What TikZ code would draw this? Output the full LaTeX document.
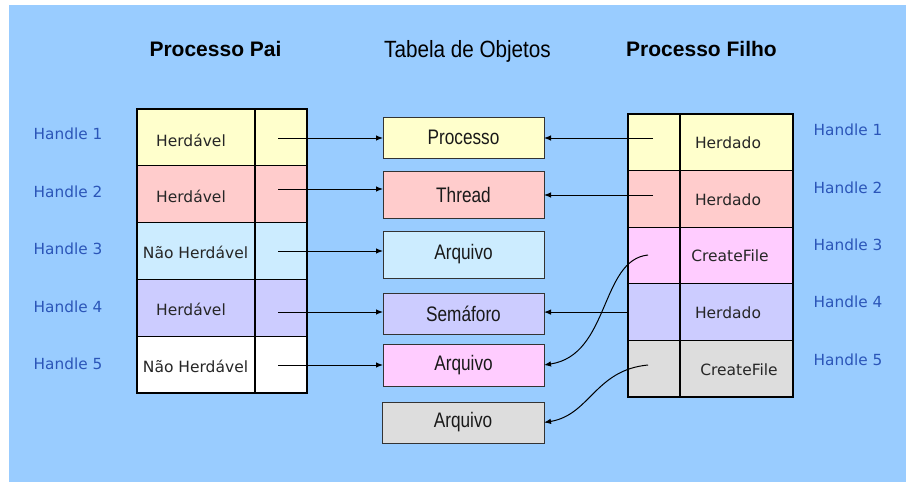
\documentclass[tikz,border=0pt]{standalone}
\usepackage{fontspec}
\usetikzlibrary{arrows.meta}
\newfontfamily\cellfont{DejaVu Sans}
\newfontfamily\headfont{Liberation Sans}
\newfontfamily\objfont[FakeStretch=0.82]{Liberation Sans}
\newfontfamily\tabfont[FakeStretch=0.88]{Liberation Sans}
\definecolor{bg}{HTML}{99CCFF}
\definecolor{cyel}{HTML}{FFFFCC}
\definecolor{cred}{HTML}{FFCCCC}
\definecolor{ccya}{HTML}{CCECFF}
\definecolor{clav}{HTML}{CCCCFF}
\definecolor{cmag}{HTML}{FFCCFF}
\definecolor{cgry}{HTML}{DDDDDD}
\definecolor{hblue}{HTML}{2B55B8}
\tikzset{
  cell/.style={draw=black, line width=1.1pt, anchor=north west, inner sep=0pt, outer sep=0pt},
  lname/.style={cell, minimum width=118pt, minimum height=56.8pt},
  lhand/.style={cell, minimum width=52pt, minimum height=56.8pt},
  rhand/.style={cell, minimum width=52pt, minimum height=56.6pt},
  rname/.style={cell, minimum width=113pt, minimum height=56.6pt},
  ctext/.style={inner sep=0pt, text=black!85, font=\cellfont\fontsize{15.5}{18}\selectfont},
  htext/.style={inner sep=0pt, text=hblue, font=\cellfont\fontsize{15.3}{18}\selectfont},
  obj/.style={draw=black!80, line width=0.9pt, anchor=north west, inner sep=0pt, outer sep=0pt,
    minimum width=161pt, text=black!90, font=\objfont\fontsize{21}{25}\selectfont},
  arr/.style={line width=1pt, -{Latex[length=7pt,width=5.5pt]}},
  title/.style={anchor=base, inner sep=0pt, font=\headfont\bfseries\fontsize{21}{25}\selectfont}
}
\begin{document}
\begin{tikzpicture}[x=1pt,y=-1pt]
\useasboundingbox (0,0) rectangle (906,482);
\fill[bg] (9,5) rectangle (906,482);

% titles
\node[title] (t1) at (215.5,56) {Processo Pai};
\node[anchor=base, inner sep=0pt, font=\tabfont\fontsize{23.5}{28}\selectfont] (t2) at (467.5,57) {Tabela de Objetos};
\node[title] (t3) at (701.5,56) {Processo Filho};

% left table
\node[lname, fill=cyel] (la1) at (137,109) {};
\node[lhand, fill=cyel] (lb1) at (255,109) {};
\node[lname, fill=cred] (la2) at (137,165.8) {};
\node[lhand, fill=cred] (lb2) at (255,165.8) {};
\node[lname, fill=ccya] (la3) at (137,222.6) {};
\node[lhand, fill=ccya] (lb3) at (255,222.6) {};
\node[lname, fill=clav] (la4) at (137,279.4) {};
\node[lhand, fill=clav] (lb4) at (255,279.4) {};
\node[lname, fill=white] (la5) at (137,336.2) {};
\node[lhand, fill=white] (lb5) at (255,336.2) {};

\node[ctext] (lt1) at (191,140) {Herdável};
\node[ctext] (lt2) at (191,196) {Herdável};
\node[ctext] (lt3) at (195.5,252) {Não Herdável};
\node[ctext] (lt4) at (191,309) {Herdável};
\node[ctext] (lt5) at (195.5,366) {Não Herdável};

% left handles
\node[htext] (hl1) at (68,134) {Handle 1};
\node[htext] (hl2) at (68,192) {Handle 2};
\node[htext] (hl3) at (68,249) {Handle 3};
\node[htext] (hl4) at (68,307) {Handle 4};
\node[htext] (hl5) at (68,364) {Handle 5};

% object table
\node[obj, fill=cyel, minimum height=41pt] (o1) at (383,117) {Processo};
\node[obj, fill=cred, minimum height=47pt] (o2) at (383,171) {Thread};
\node[obj, fill=ccya, minimum height=47pt] (o3) at (383,231) {Arquivo};
\node[obj, fill=clav, minimum height=41pt] (o4) at (383,293) {Semáforo};
\node[obj, fill=cmag, minimum height=42pt] (o5) at (383,344) {Arquivo};
\node[obj, fill=cgry, minimum height=41pt, minimum width=162pt] (o6) at (382,402) {Arquivo};

% right table
\node[rhand, fill=cyel] (ra1) at (628,114) {};
\node[rname, fill=cyel] (rb1) at (680,114) {};
\node[rhand, fill=cred] (ra2) at (628,170.6) {};
\node[rname, fill=cred] (rb2) at (680,170.6) {};
\node[rhand, fill=cmag] (ra3) at (628,227.2) {};
\node[rname, fill=cmag] (rb3) at (680,227.2) {};
\node[rhand, fill=clav] (ra4) at (628,283.8) {};
\node[rname, fill=clav] (rb4) at (680,283.8) {};
\node[rhand, fill=cgry] (ra5) at (628,340.4) {};
\node[rname, fill=cgry] (rb5) at (680,340.4) {};

\node[ctext] (rt1) at (728,143) {Herdado};
\node[ctext] (rt2) at (728,200) {Herdado};
\node[ctext] (rt3) at (730,256) {CreateFile};
\node[ctext] (rt4) at (728,313) {Herdado};
\node[ctext] (rt5) at (739,370) {CreateFile};

% right handles
\node[htext] (hr1) at (848,130) {Handle 1};
\node[htext] (hr2) at (848,188) {Handle 2};
\node[htext] (hr3) at (848,245) {Handle 3};
\node[htext] (hr4) at (848,302) {Handle 4};
\node[htext] (hr5) at (848,360) {Handle 5};

% arrow start points
\coordinate (a1) at (278,138);
\coordinate (a2) at (278,189);
\coordinate (a3) at (278,251);
\coordinate (a4) at (278,312);
\coordinate (a5) at (278,365);
\coordinate (b1) at (653,138);
\coordinate (b2) at (653,195);
\coordinate (b3) at (648,255);
\coordinate (b5) at (648,365);

\draw[arr] (a1) -- (o1.west |- a1);
\draw[arr] (a2) -- (o2.west |- a2);
\draw[arr] (a3) -- (o3.west |- a3);
\draw[arr] (a4) -- (o4.west |- a4);
\draw[arr] (a5) -- (o5.west |- a5);

\draw[arr] (b1) -- (o1.east |- b1);
\draw[arr] (b2) -- (o2.east |- b2);
\draw[arr] (ra4.west) -- (o4.east |- ra4.west);
\draw[arr] (b3) .. controls (600,260) and (610,355) .. (o5.east);
\draw[arr] (b5) .. controls (595,370) and (590,415) .. (o6.east);
\end{tikzpicture}
\end{document}
